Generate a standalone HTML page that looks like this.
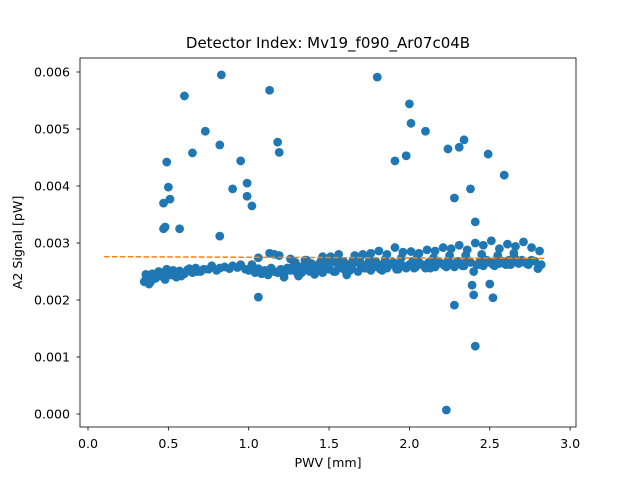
<!DOCTYPE html>
<html><head><meta charset="utf-8"><style>
body{margin:0;background:#fff;}
svg text{font-family:"DejaVu Sans","Liberation Sans",sans-serif;}
</style></head><body>
<svg id="chart" width="640" height="480" xmlns="http://www.w3.org/2000/svg">
<rect width="640" height="480" fill="#fff"/>
<g id="marks"></g>
<g id="axes"></g>
</svg>
<script>
const bandPwv=[0.35,0.36,0.37,0.38,0.40,0.42,0.45,0.47,0.48,0.50,
0.52,0.53,0.55,0.57,0.60,0.62,0.65,0.67,0.70,0.72,
0.80,0.82,0.85,0.88,0.90,0.93,0.95,0.98,1.00,1.02,
1.04,1.06,1.08,1.10,1.12,1.14,1.16,1.18,1.20,1.22,
1.24,1.26,1.28,1.30,1.32,1.34,1.36,1.38,1.40,1.42,
1.44,1.46,1.48,1.50,1.52,1.54,1.56,1.58,1.60,1.62,
1.64,1.66,1.68,1.70,1.72,1.74,1.76,1.78,1.80,1.82,
1.84,1.86,1.88,1.90,1.92,1.94,1.96,1.98,2.00,2.02,
2.04,2.06,2.08,2.10,2.12,2.14,2.16,2.18,2.20,2.22,
2.24,2.26,2.28,2.30,2.32,2.34,2.36,2.38,2.40,2.42,
2.44,2.46,2.48,2.50,2.52,2.54,2.56,2.58,2.60,2.62,
2.64,2.66,2.68,2.70,2.72,2.74,2.76,2.78,2.80,2.82,
1.09,1.23,1.33,1.43,1.53,1.63,1.73,1.83,1.93,2.03,
2.13,2.23,2.33,2.43,2.53,2.63,2.73,0.58,0.68,0.75,
1.35,1.45,1.55,1.65,1.75,1.85,1.95,2.05,2.15,2.25,
2.35,2.45,2.55,2.65,1.29,1.39,1.49,1.59,1.69,1.79];
const bandSignal=[0.00232,0.00245,0.00240,0.00228,0.00246,0.00238,0.00242,0.00248,0.00236,0.00250,
0.00244,0.00252,0.00240,0.00251,0.00246,0.00253,0.00248,0.00256,0.00250,0.00254,
0.00252,0.00256,0.00258,0.00255,0.00260,0.00257,0.00262,0.00254,0.00252,0.00262,
0.00248,0.00255,0.00246,0.00252,0.00244,0.00256,0.00250,0.00248,0.00254,0.00246,
0.00256,0.00252,0.00260,0.00248,0.00258,0.00254,0.00262,0.00250,0.00258,0.00254,
0.00264,0.00248,0.00258,0.00254,0.00266,0.00250,0.00260,0.00256,0.00252,0.00262,
0.00258,0.00266,0.00250,0.00260,0.00256,0.00264,0.00252,0.00262,0.00258,0.00254,
0.00264,0.00256,0.00262,0.00266,0.00254,0.00264,0.00260,0.00256,0.00262,0.00268,
0.00258,0.00266,0.00262,0.00256,0.00266,0.00262,0.00258,0.00268,0.00264,0.00260,
0.00268,0.00264,0.00258,0.00268,0.00264,0.00260,0.00270,0.00266,0.00250,0.00262,
0.00268,0.00260,0.00270,0.00266,0.00262,0.00270,0.00264,0.00268,0.00262,0.00270,
0.00266,0.00272,0.00264,0.00270,0.00266,0.00262,0.00270,0.00268,0.00255,0.00262,
0.00250,0.00252,0.00248,0.00254,0.00250,0.00252,0.00256,0.00252,0.00254,0.00256,
0.00256,0.00258,0.00260,0.00262,0.00260,0.00262,0.00264,0.00242,0.00250,0.00254,
0.00270,0.00268,0.00272,0.00270,0.00274,0.00272,0.00274,0.00276,0.00274,0.00278,
0.00278,0.00280,0.00278,0.00282,0.00266,0.00264,0.00266,0.00268,0.00270,0.00268];
const upperPwv=[0.36,0.39,0.44,0.49,0.56,0.63,0.77,1.13,1.16,1.19,
1.26,1.36,1.46,1.56,1.66,1.76,1.86,1.96,2.06,2.16,
2.26,2.36,2.46,2.56,2.66,2.76,
1.06,1.22,1.31,1.41,1.51,1.61,1.71,1.81,1.91,2.01,
2.11,2.21,2.31,2.41,2.51,2.61,2.71,2.81];
const upperSignal=[0.00236,0.00232,0.00250,0.00254,0.00248,0.00255,0.00260,0.00282,0.00280,0.00278,
0.00272,0.00270,0.00276,0.00280,0.00278,0.00282,0.00280,0.00284,0.00282,0.00286,
0.00290,0.00288,0.00296,0.00290,0.00294,0.00292,
0.00274,0.00240,0.00242,0.00245,0.00276,0.00244,0.00280,0.00286,0.00292,0.00285,
0.00288,0.00292,0.00296,0.00300,0.00304,0.00298,0.00302,0.00286];
const outlierPwv=[0.83,0.60,1.13,1.80,0.73,2.00,2.01,2.10,0.82,1.18,
1.19,0.65,0.49,0.95,1.91,1.98,2.24,2.31,2.34,2.49,
2.59,0.50,0.90,0.99,0.99,1.02,0.51,0.47,2.38,2.28,
2.41,0.48,0.47,0.57,0.82,
1.06,2.39,2.40,2.50,2.52,2.28,2.41,2.23];
const outlierSignal=[0.00595,0.00558,0.00568,0.00591,0.00496,0.00544,0.00510,0.00496,0.00472,0.00477,
0.00459,0.00458,0.00442,0.00444,0.00444,0.00453,0.00465,0.00468,0.00481,0.00456,
0.00419,0.00398,0.00395,0.00405,0.00382,0.00365,0.00377,0.00370,0.00395,0.00379,
0.00337,0.00328,0.00325,0.00325,0.00312,
0.00205,0.00226,0.00209,0.00228,0.00204,0.00191,0.00119,0.00007];
const fitX=[0.1,2.85];
const fitY=[0.002760,0.002730];
const xTicks=[0,0.5,1,1.5,2,2.5,3];
const xTickLabels=["0.0","0.5","1.0","1.5","2.0","2.5","3.0"];
const yTicks=[0,0.001,0.002,0.003,0.004,0.005,0.006];
const yTickLabels=["0.000","0.001","0.002","0.003","0.004","0.005","0.006"];

const L=80,R=576,T=58,B=427;
function xs(v){return 88+v*160.7;}
function ys(v){return 414-v*57000;}
const NS="http://www.w3.org/2000/svg";
function mk(tag,attrs,parent){const e=document.createElementNS(NS,tag);for(const k in attrs)e.setAttribute(k,attrs[k]);parent.appendChild(e);return e;}
const marks=document.getElementById('marks');
function drawPts(xa,ya){
  const n=Math.min(xa.length,ya.length);
  for(let i=0;i<n;i++){
    const c=mk('circle',{cx:xs(xa[i]),cy:ys(ya[i]),r:4.4,fill:'#1f77b4'},marks);
    
    
  }
}
drawPts(bandPwv,bandSignal);
drawPts(upperPwv,upperSignal);
drawPts(outlierPwv,outlierSignal);
const fl=mk('line',{x1:xs(fitX[0]),y1:ys(fitY[0]),x2:xs(fitX[1]),y2:ys(fitY[1]),stroke:'#ff7f0e','stroke-width':1.5,'stroke-dasharray':'5.5,2.4'},marks);


const ax=document.getElementById('axes');
const fr=mk('rect',{x:L,y:T,width:R-L,height:B-T,fill:'none',stroke:'#000','stroke-width':0.8},ax);


xTicks.forEach((v,i)=>{
  mk('line',{x1:xs(v),x2:xs(v),y1:B,y2:B+3.5,stroke:'#000','stroke-width':0.8},ax);
  const t=mk('text',{x:xs(v),y:B+21,'font-size':12.6,'text-anchor':'middle'},ax);
  t.textContent=xTickLabels[i];
  
  
});
yTicks.forEach((v,i)=>{
  mk('line',{x1:L-3.5,x2:L,y1:ys(v),y2:ys(v),stroke:'#000','stroke-width':0.8},ax);
  const t=mk('text',{x:L-10,y:ys(v)+4.5,'font-size':12.6,'text-anchor':'end'},ax);
  t.textContent=yTickLabels[i];
  
  
});
const xt=mk('text',{x:(L+R)/2,y:467,'font-size':12.6,'text-anchor':'middle'},ax);
xt.textContent='PWV [mm]';


const yt=mk('text',{x:22,y:(T+B)/2,'font-size':12.6,'text-anchor':'middle',transform:'rotate(-90 22 '+((T+B)/2)+')'},ax);
yt.textContent='A2 Signal [pW]';


const tt=mk('text',{x:(L+R)/2,y:48,'font-size':15,'text-anchor':'middle'},ax);
tt.textContent='Detector Index: Mv19_f090_Ar07c04B';


</script>
</body></html>
